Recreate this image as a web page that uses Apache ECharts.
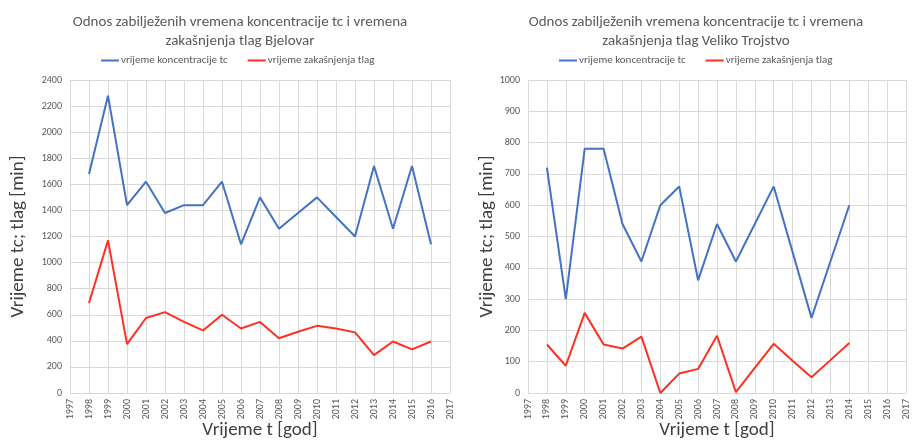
<!DOCTYPE html>
<html><head><meta charset="utf-8">
<script src="https://cdn.jsdelivr.net/npm/echarts@6/dist/echarts.min.js"></script>
<style>html,body{margin:0;padding:0;background:#fff}#c{width:912px;height:440px}</style>
</head><body><div id="c"></div>
<script>
const years = ['1997','1998','1999','2000','2001','2002','2003','2004','2005','2006','2007','2008','2009','2010','2011','2012','2013','2014','2015','2016','2017'];
const bjelovarTc = [null,1680,2280,1440,1620,1380,1440,1440,1620,1140,1500,1260,1380,1500,1350,1200,1740,1260,1740,1140,null];
const bjelovarTlag = [null,690,1170,375,575,620,545,480,600,495,545,420,470,515,495,465,290,395,335,395,null];
const trojstvoTc = [null,720,300,780,780,540,420,600,660,360,540,420,540,660,450,240,420,600,null,null,null];
const trojstvoTlag = [null,155,87,256,155,142,180,0,62,77,183,3,80,157,103,50,105,160,null,null,null];
const titleLeft = 'Odnos zabilježenih vremena koncentracije tc i vremena\nzakašnjenja tlag Bjelovar';
const titleRight = 'Odnos zabilježenih vremena koncentracije tc i vremena\nzakašnjenja tlag Veliko Trojstvo';
const nameTc = 'vrijeme koncentracije tc';
const nameTlag = 'vrijeme zakašnjenja tlag';

const BLUE = '#4472C4', RED = '#FF3021', GRAY = '#595959', GRID = '#D9D9D9';
const font = 'Calibri, Carlito, "Open Sans", "Noto Sans", sans-serif';

function xAxis(gi){
  return {type:'category', gridIndex:gi, data:years, boundaryGap:false,
    axisLine:{lineStyle:{color:GRID}}, axisTick:{show:false},
    axisLabel:{rotate:90, color:GRAY, fontSize:10, fontFamily:font, interval:0, margin:6},
    splitLine:{show:true, lineStyle:{color:GRID}},
    name:'Vrijeme t [god]', nameLocation:'middle', nameGap:28, nameMoveOverlap:false,
    nameTextStyle:{fontSize:19, color:'#404040', fontFamily:font}};
}
function yAxis(gi, max, interval, gap){
  return {type:'value', gridIndex:gi, min:0, max:max, interval:interval,
    axisLine:{show:true, lineStyle:{color:GRID}}, axisTick:{show:false},
    axisLabel:{color:GRAY, fontSize:10, fontFamily:font, margin:8, formatter:v=>String(v)},
    splitLine:{lineStyle:{color:GRID}},
    name:'Vrijeme tc; tlag [min]', nameLocation:'middle', nameGap:gap, nameMoveOverlap:false,
    nameTextStyle:{fontSize:19, color:'#404040', fontFamily:font}};
}
function line(name, data, color, gi){
  return {type:'line', name:name, data:data, xAxisIndex:gi, yAxisIndex:gi,
    symbol:'none', lineStyle:{color:color, width:2}, itemStyle:{color:color}};
}
const chart = echarts.init(document.getElementById('c'));
chart.setOption({
  animation:false,
  title:[
    {text:titleLeft, left:235, top:8, textAlign:'center',
     textStyle:{fontSize:15, fontWeight:'normal', color:GRAY, fontFamily:font, lineHeight:19}},
    {text:titleRight, left:691, top:8, textAlign:'center',
     textStyle:{fontSize:15, fontWeight:'normal', color:GRAY, fontFamily:font, lineHeight:19}}
  ],
  legend:[
    {data:[nameTc,nameTlag], left:96, top:50, itemWidth:18, itemHeight:2, itemGap:20,
     icon:'rect', textStyle:{fontSize:11, color:GRAY, fontFamily:font, padding:[0,0,0,-3]}},
    {data:[nameTc,nameTlag], left:554, top:50, itemWidth:18, itemHeight:2, itemGap:20,
     icon:'rect', textStyle:{fontSize:11, color:GRAY, fontFamily:font, padding:[0,0,0,-3]}}
  ],
  grid:[
    {left:70, right:462, top:80, bottom:47, containLabel:false, outerBoundsMode:'none'},
    {left:528, right:6, top:80, bottom:47, containLabel:false, outerBoundsMode:'none'}
  ],
  xAxis:[xAxis(0), xAxis(1)],
  yAxis:[yAxis(0, 2400, 200, 42), yAxis(1, 1000, 100, 31)],
  series:[
    line(nameTc, bjelovarTc, BLUE, 0),
    line(nameTlag, bjelovarTlag, RED, 0),
    line(nameTc, trojstvoTc, BLUE, 1),
    line(nameTlag, trojstvoTlag, RED, 1)
  ]
});
</script></body></html>
